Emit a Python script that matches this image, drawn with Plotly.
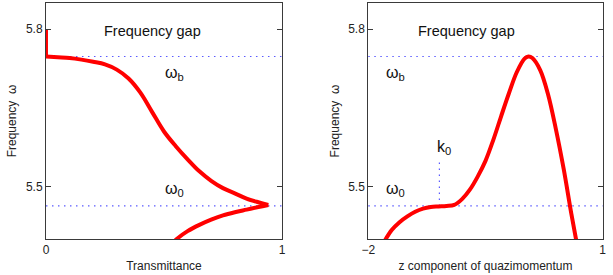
import plotly.graph_objects as go

# ---- data ----
# left panel: transmittance vs frequency
trans_top = [0.0, 0.0]
omega_top = [5.80, 5.748]
trans_upper = [0.0, 0.05, 0.10, 0.15, 0.20, 0.25, 0.30, 0.35, 0.40, 0.45, 0.50, 0.55, 0.60, 0.65,
               0.70, 0.75, 0.80, 0.85, 0.90, 0.942]
omega_upper = [5.748, 5.7465, 5.745, 5.742, 5.738, 5.733, 5.723, 5.706, 5.679, 5.642, 5.605, 5.577,
               5.552, 5.529, 5.511, 5.497, 5.487, 5.477, 5.470, 5.465]
trans_lower = [0.942, 0.90, 0.85, 0.80, 0.75, 0.70, 0.65, 0.60, 0.554, 0.54]
omega_lower = [5.465, 5.461, 5.456, 5.451, 5.445, 5.437, 5.427, 5.415, 5.400, 5.394]

# right panel: dispersion curve
kz = [-1.8, -1.7, -1.6, -1.5, -1.4, -1.3, -1.2, -1.1, -1.0, -0.9, -0.8, -0.7, -0.6, -0.5, -0.4,
      -0.3, -0.2, -0.1, 0.0, 0.05, 0.1, 0.2, 0.3, 0.4, 0.5, 0.6, 0.7]
omega_k = [5.394, 5.417, 5.432, 5.443, 5.452, 5.458, 5.461, 5.462, 5.463, 5.465, 5.476, 5.494,
           5.519, 5.549, 5.589, 5.634, 5.678, 5.718, 5.744, 5.748, 5.745, 5.722, 5.676, 5.610,
           5.534, 5.447, 5.366]

omega_b = 5.748
omega_0 = 5.463
k0 = -1.09
k0_top = 5.551

x1_ticks = [0, 1]
x2_ticks = [-2, 1]
y_ticks = [5.5, 5.8]

FONT = "Liberation Sans, Arial, Helvetica, sans-serif"
RED = "#ff0000"
BLUE = "#5a5aff"
AX = "#3a3a3a"
DOT = "1.5px,4.5px"

fig = go.Figure()

for xs, ys in [(trans_top, omega_top), (trans_upper, omega_upper), (trans_lower, omega_lower)]:
    fig.add_trace(go.Scatter(x=xs, y=ys, mode="lines", xaxis="x", yaxis="y",
                             line=dict(color=RED, width=4, shape="spline", smoothing=1.0),
                             showlegend=False, hoverinfo="skip"))

fig.add_trace(go.Scatter(x=kz, y=omega_k, mode="lines", xaxis="x2", yaxis="y2",
                         line=dict(color=RED, width=4, shape="spline", smoothing=1.0),
                         showlegend=False, hoverinfo="skip"))

# dotted guide lines
for xr, yr_ in [("x domain", "y"), ("x2 domain", "y2")]:
    for yv in [omega_b, omega_0]:
        fig.add_shape(type="line", xref=xr, yref=yr_, x0=0, x1=1, y0=yv, y1=yv,
                      line=dict(color=BLUE, width=1.2, dash=DOT), layer="below")
fig.add_shape(type="line", xref="x2", yref="y2", x0=k0, x1=k0, y0=omega_0, y1=k0_top,
              line=dict(color=BLUE, width=1.2, dash=DOT), layer="below")

def ann(text, x, y, xr, yr_, size, xanchor="left"):
    fig.add_annotation(text=text, x=x, y=y, xref=xr, yref=yr_, showarrow=False,
                       xanchor=xanchor, yanchor="middle",
                       font=dict(family=FONT, size=size, color="#111"))

ann("Frequency gap", 0.451, 5.797, "x", "y", 14.5, "center")
ann("Frequency gap", -0.747, 5.797, "x2", "y2", 14.5, "center")
ann("ω<sub>b</sub>", 0.495, 5.715, "x", "y", 16)
ann("ω<sub>0</sub>", 0.495, 5.495, "x", "y", 16)
ann("ω<sub>b</sub>", -1.80, 5.715, "x2", "y2", 16)
ann("ω<sub>0</sub>", -1.80, 5.495, "x2", "y2", 16)
ann("k<sub>0</sub>", -1.15, 5.575, "x2", "y2", 16)

axis_common = dict(showline=True, linecolor=AX, linewidth=1, mirror="ticks", ticks="inside",
                   ticklen=5, tickcolor=AX, showgrid=False, zeroline=False, automargin=False,
                   tickfont=dict(family=FONT, size=12, color="#222"))

yr = [5.40, 5.85]
TF = dict(family=FONT, size=12, color="#222")
fig.update_layout(
    width=613, height=275,
    margin=dict(l=0, r=0, t=0, b=0, autoexpand=False),
    paper_bgcolor="white", plot_bgcolor="white",
    xaxis=dict(domain=[0.0750, 0.4600], range=[0, 1], tickvals=x1_ticks,
               title=dict(text="Transmittance", font=TF, standoff=5),
               anchor="y", **axis_common),
    yaxis=dict(domain=[0.1309, 0.9891], range=yr, tickvals=y_ticks,
               title=dict(text="Frequency  ω", font=TF, standoff=6),
               anchor="x", **axis_common),
    xaxis2=dict(domain=[0.6008, 0.9832], range=[-2, 1], tickvals=x2_ticks,
                title=dict(text="z component of quazimomentum", font=TF, standoff=5),
                anchor="y2", **axis_common),
    yaxis2=dict(domain=[0.1309, 0.9891], range=yr, tickvals=y_ticks,
                title=dict(text="Frequency  ω", font=TF, standoff=6),
                anchor="x2", **axis_common),
)

fig.write_html("out.html", config={"displayModeBar": False},
               post_script="document.body.style.margin='0';document.body.style.overflow='hidden';")
